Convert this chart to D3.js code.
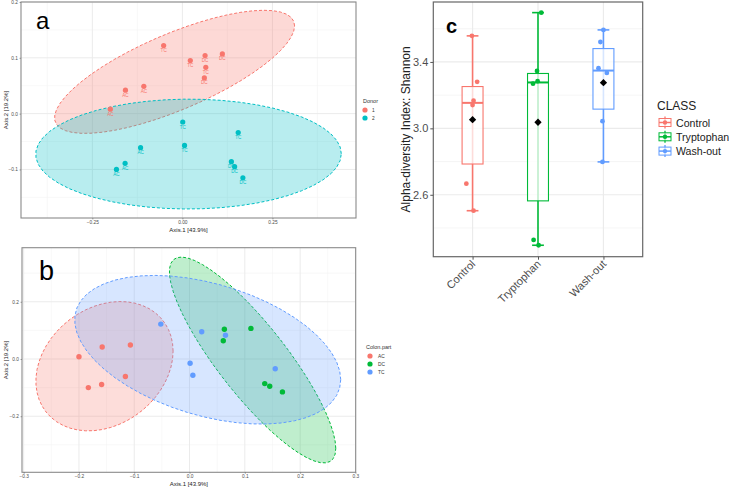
<!DOCTYPE html>
<html><head><meta charset="utf-8">
<script src="https://cdn.jsdelivr.net/npm/d3@7"></script>
<style>body{margin:0;background:#fff}svg{display:block;font-family:"Liberation Sans",Arial,sans-serif}</style>
</head><body><svg id="c" width="729" height="488"></svg>
<script>
// ---- PCoA samples (shared by panels a and b) ----
const pcoaX = [-0.052, 0.022, 0.065, 0.063, 0.111, 0.061, -0.158, -0.107, -0.200, 0.001, 0.006, 0.155, 0.136, 0.145, 0.168, -0.116, -0.159, -0.183];
const pcoaY = [0.122, 0.095, 0.083, 0.104, 0.107, 0.064, 0.042, 0.049, 0.008, -0.015, -0.057, -0.034, -0.086, -0.095, -0.115, -0.061, -0.089, -0.100];
const donor = ["1","1","1","1","1","1","1","1","1","2","2","2","2","2","2","2","2","2"];
const colonPart = ["TC","TC","TC","DC","DC","DC","AC","AC","AC","TC","TC","TC","DC","DC","DC","AC","AC","AC"];
const donorLevels = ["1","2"];
const partLevels = ["AC","DC","TC"];
const axisTitleX = "Axis.1  [43.9%]";
const axisTitleY = "Axis.2  [19.2%]";
const ticksAx = [-0.25, 0, 0.25], ticksAy = [-0.1, 0, 0.1, 0.2];
const ticksBx = [-0.3, -0.2, -0.1, 0, 0.1, 0.2, 0.3], ticksBy = [-0.2, 0, 0.2];
// ---- Shannon alpha diversity (panel c) ----
const classes = ["Control", "Tryptophan", "Wash-out"];
const shannonControl = [3.557, 3.280, 3.167, 3.140, 2.667, 2.504];
const shannonTryptophan = [3.697, 3.346, 3.284, 3.269, 2.328, 2.296];
const shannonWashout = [3.593, 3.520, 3.362, 3.334, 3.043, 2.798];
const jitterControl = [-0.01, 0.07, 0.015, 0, -0.095, 0.015];
const jitterTryptophan = [0.05, -0.015, -0.006, -0.076, -0.067, 0.009];
const jitterWashout = [0, -0.046, -0.076, 0.052, -0.015, -0.015];
const ticksCy = [2.6, 3.0, 3.4];

const svg = d3.select("#c");
svg.append("rect").attr("width",729).attr("height",488).attr("fill","#fff");
const GRID="#EBEBEB", BORDER="#8a8a8a", TXT="#4D4D4D";

const samples = pcoaX.map((x,i)=>({x, y:pcoaY[i], donor:donor[i], part:colonPart[i]}));

// ggplot2::stat_ellipse: type "t" (MASS::cov.trob) or "norm" (cov.wt)
function covTrob(pts){
  const nu=5,p=2,n=pts.length,tol=0.01;
  let loc=[d3.mean(pts,d=>d[0]),d3.mean(pts,d=>d[1])];
  let w=pts.map(()=>1), X;
  for(let it=0;it<25;it++){
    const w0=w.slice();
    X=pts.map(d=>[d[0]-loc[0],d[1]-loc[1]]);
    const sw=d3.sum(w); let a=0,b=0,c=0;
    X.forEach((v,i)=>{a+=w[i]*v[0]*v[0];b+=w[i]*v[0]*v[1];c+=w[i]*v[1]*v[1];});
    a/=sw;b/=sw;c/=sw; const det=a*c-b*b;
    const Q=X.map(v=>(c*v[0]*v[0]-2*b*v[0]*v[1]+a*v[1]*v[1])/det);
    w=Q.map(q=>(nu+p)/(nu+q));
    const s=d3.sum(w);
    loc=[d3.sum(pts,(d,i)=>w[i]*d[0])/s, d3.sum(pts,(d,i)=>w[i]*d[1])/s];
    if(w.every((v,i)=>Math.abs(v-w0[i])<tol)) break;
  }
  let a=0,b=0,c=0;
  X.forEach((v,i)=>{a+=w[i]*v[0]*v[0];b+=w[i]*v[0]*v[1];c+=w[i]*v[1]*v[1];});
  return {center:loc, cov:[a/n,b/n,c/n]};
}
function covWt(pts){
  const n=pts.length, m=[d3.mean(pts,d=>d[0]),d3.mean(pts,d=>d[1])];
  let a=0,b=0,c=0;
  pts.forEach(d=>{const u=d[0]-m[0],v=d[1]-m[1];a+=u*u;b+=u*v;c+=v*v;});
  return {center:m, cov:[a/(n-1),b/(n-1),c/(n-1)]};
}
function ellipsePts(pts,type){
  const n=pts.length, dfd=n-1;
  const q=(dfd/2)*(Math.pow(0.05,-2/dfd)-1);
  const r=Math.sqrt(2*q);
  const {center,cov}=type==="norm"?covWt(pts):covTrob(pts);
  const R11=Math.sqrt(cov[0]), R12=cov[1]/R11, R22=Math.sqrt(cov[2]-R12*R12);
  return d3.range(0,52).map(k=>{const t=k*2*Math.PI/51;
    return [center[0]+r*Math.cos(t)*R11, center[1]+r*(Math.cos(t)*R12+Math.sin(t)*R22)];});
}

function panelFrame(g,x,y,xt,yt,xMinor,yMinor){
  const [x0,x1]=x.range(), [y1,y0]=y.range();
  g.append("rect").attr("x",x0).attr("y",y0).attr("width",x1-x0).attr("height",y1-y0).attr("fill","#fff");
  xMinor.forEach(v=>g.append("line").attr("x1",x(v)).attr("x2",x(v)).attr("y1",y0).attr("y2",y1).attr("stroke","#F3F3F3").attr("stroke-width",0.6));
  yMinor.forEach(v=>g.append("line").attr("y1",y(v)).attr("y2",y(v)).attr("x1",x0).attr("x2",x1).attr("stroke","#F3F3F3").attr("stroke-width",0.6));
  xt.forEach(v=>g.append("line").attr("x1",x(v)).attr("x2",x(v)).attr("y1",y0).attr("y2",y1).attr("stroke",GRID).attr("stroke-width",1));
  yt.forEach(v=>g.append("line").attr("y1",y(v)).attr("y2",y(v)).attr("x1",x0).attr("x2",x1).attr("stroke",GRID).attr("stroke-width",1));
}
function panelBorder(g,x,y){
  const [x0,x1]=x.range(), [y1,y0]=y.range();
  g.append("rect").attr("x",x0).attr("y",y0).attr("width",x1-x0).attr("height",y1-y0).attr("fill","none").attr("stroke",BORDER).attr("stroke-width",1.1);
}
function smallAxes(g,x,y,xt,yt,fx,fy,titleDy){
  const [x0,x1]=x.range(), [y1,y0]=y.range();
  const ax=g.append("g").attr("transform",`translate(0,${y1})`).call(d3.axisBottom(x).tickValues(xt).tickFormat(fx).tickSize(1.5).tickPadding(1));
  const ay=g.append("g").attr("transform",`translate(${x0},0)`).call(d3.axisLeft(y).tickValues(yt).tickFormat(fy).tickSize(1.5).tickPadding(1.5));
  [ax,ay].forEach(a=>{a.select(".domain").remove();a.selectAll("line").attr("stroke","#555").attr("stroke-width",0.5);
    a.selectAll("text").attr("font-size",4.8).attr("fill",TXT).attr("font-family","Liberation Sans, Arial, sans-serif");});
  g.append("text").attr("x",(x0+x1)/2).attr("y",y1+titleDy).attr("text-anchor","middle").attr("font-size",6).attr("fill","#222").text(axisTitleX);
  g.append("text").attr("transform",`translate(8,${(y0+y1)/2}) rotate(-90)`).attr("text-anchor","middle").attr("font-size",6).attr("fill","#222").text(axisTitleY);
}

// ================= Panel a =================
{
  const g=svg.append("g");
  const x=d3.scaleLinear().domain([-0.448,0.482]).range([21,356]);
  const y=d3.scaleLinear().domain([-0.187,0.2]).range([218,2]);
  const col=d3.scaleOrdinal().domain(donorLevels).range(["#F8766D","#00BFC4"]);
  panelFrame(g,x,y,ticksAx,ticksAy,[-0.375,-0.125,0.125,0.375],[-0.15,-0.05,0.05,0.15]);
  const line=d3.line().x(d=>x(d[0])).y(d=>y(d[1]));
  donorLevels.forEach(lv=>{
    const pts=samples.filter(s=>s.donor===lv).map(s=>[s.x,s.y]);
    g.append("path").attr("d",line(ellipsePts(pts,"norm"))).attr("fill",col(lv)).attr("fill-opacity",0.28)
      .attr("stroke",col(lv)).attr("stroke-width",1).attr("stroke-dasharray","3,2");
  });
  samples.forEach(s=>{
    g.append("circle").attr("cx",x(s.x)).attr("cy",y(s.y)).attr("r",2.6).attr("fill",col(s.donor));
    g.append("text").attr("x",x(s.x)).attr("y",y(s.y)+6.5).attr("text-anchor","middle").attr("font-size",4.6).attr("fill",col(s.donor)).text(s.part);
  });
  panelBorder(g,x,y);
  smallAxes(g,x,y,ticksAx,ticksAy,d3.format(".2f"),d3.format(".1f"),14);
  g.append("text").attr("x",363).attr("y",103).attr("font-size",5.5).attr("fill","#333").text("Donor");
  donorLevels.forEach((lv,i)=>{
    g.append("circle").attr("cx",365).attr("cy",110+i*8).attr("r",2.6).attr("fill",col(lv));
    g.append("text").attr("x",372).attr("y",112+i*8).attr("font-size",4.8).attr("fill","#333").text(lv);
  });
  g.append("text").attr("x",36).attr("y",29).attr("font-size",24).attr("fill","#000").text("a");
}

// ================= Panel b =================
{
  const g=svg.append("g");
  const x=d3.scaleLinear().domain([-0.303,0.3005]).range([22,355.7]);
  const y=d3.scaleLinear().domain([-0.396,0.389]).range([472.3,247.7]);
  const col=d3.scaleOrdinal().domain(partLevels).range(["#F8766D","#00BA38","#619CFF"]);
  panelFrame(g,x,y,ticksBx,ticksBy,[-0.25,-0.15,-0.05,0.05,0.15,0.25],[-0.3,-0.1,0.1,0.3]);
  const line=d3.line().x(d=>x(d[0])).y(d=>y(d[1]));
  partLevels.forEach(lv=>{
    const pts=samples.filter(s=>s.part===lv).map(s=>[s.x,s.y]);
    g.append("path").attr("d",line(ellipsePts(pts,"norm"))).attr("fill",col(lv)).attr("fill-opacity",0.25)
      .attr("stroke",col(lv)).attr("stroke-width",1).attr("stroke-dasharray","3,2");
  });
  samples.forEach(s=>{
    g.append("circle").attr("cx",x(s.x)).attr("cy",y(s.y)).attr("r",2.7).attr("fill",col(s.part));
  });
  panelBorder(g,x,y);
  smallAxes(g,x,y,ticksBx,ticksBy,d3.format(".1f"),d3.format(".1f"),13.5);
  g.append("text").attr("x",366).attr("y",349).attr("font-size",5.5).attr("fill","#333").text("Colon.part");
  partLevels.forEach((lv,i)=>{
    g.append("circle").attr("cx",370).attr("cy",356+i*8).attr("r",2.6).attr("fill",col(lv));
    g.append("text").attr("x",378).attr("y",358+i*8).attr("font-size",4.8).attr("fill","#333").text(lv);
  });
  g.append("text").attr("x",39).attr("y",280).attr("font-size",27).attr("fill","#000").text("b");
}

// ================= Panel c =================
{
  const g=svg.append("g");
  const x=d3.scalePoint().domain(classes).range([433.3,642.7]).padding(0.6);
  const y=d3.scaleLinear().domain([2.227,3.761]).range([256.7,2]);
  const step=x.step();
  const col=d3.scaleOrdinal().domain(classes).range(["#F8766D","#00BA38","#619CFF"]);
  const values={"Control":shannonControl,"Tryptophan":shannonTryptophan,"Wash-out":shannonWashout};
  const jit={"Control":jitterControl,"Tryptophan":jitterTryptophan,"Wash-out":jitterWashout};
  const [x0,x1]=x.range(), [y1,y0]=y.range();
  g.append("rect").attr("x",x0).attr("y",y0).attr("width",x1-x0).attr("height",y1-y0).attr("fill","#fff");
  [2.4,2.8,3.2,3.6].forEach(v=>g.append("line").attr("y1",y(v)).attr("y2",y(v)).attr("x1",x0).attr("x2",x1).attr("stroke","#F3F3F3").attr("stroke-width",0.8));
  ticksCy.forEach(v=>g.append("line").attr("y1",y(v)).attr("y2",y(v)).attr("x1",x0).attr("x2",x1).attr("stroke",GRID).attr("stroke-width",1.2));
  classes.forEach(c=>g.append("line").attr("x1",x(c)).attr("x2",x(c)).attr("y1",y0).attr("y2",y1).attr("stroke",GRID).attr("stroke-width",1.2));
  classes.forEach(c=>{
    const v=values[c].slice().sort(d3.ascending);
    const q1=d3.quantile(v,0.25), med=d3.quantile(v,0.5), q3=d3.quantile(v,0.75), iqr=q3-q1;
    const lo=d3.min(v.filter(d=>d>=q1-1.5*iqr)), hi=d3.max(v.filter(d=>d<=q3+1.5*iqr));
    const cx=x(c), bw=step*0.32, cw=step*0.18;
    g.append("line").attr("x1",cx).attr("x2",cx).attr("y1",y(lo)).attr("y2",y(hi)).attr("stroke",col(c)).attr("stroke-width",1.6);
    [lo,hi].forEach(e=>g.append("line").attr("x1",cx-cw/2).attr("x2",cx+cw/2).attr("y1",y(e)).attr("y2",y(e)).attr("stroke",col(c)).attr("stroke-width",1.6));
    g.append("rect").attr("x",cx-bw/2).attr("y",y(q3)).attr("width",bw).attr("height",y(q1)-y(q3))
      .attr("fill","#fff").attr("fill-opacity",0.75).attr("stroke",col(c)).attr("stroke-width",1.1);
    g.append("line").attr("x1",cx-bw/2).attr("x2",cx+bw/2).attr("y1",y(med)).attr("y2",y(med)).attr("stroke",col(c)).attr("stroke-width",2);
    values[c].forEach((d,i)=>g.append("circle").attr("cx",cx+jit[c][i]*step).attr("cy",y(d)).attr("r",2.4).attr("fill",col(c)));
    const m=d3.mean(values[c]);
    g.append("path").attr("d",d3.symbol(d3.symbolDiamond2,34)()).attr("transform",`translate(${cx},${y(m)})`).attr("fill","#000");
  });
  g.append("rect").attr("x",x0).attr("y",y0).attr("width",x1-x0).attr("height",y1-y0).attr("fill","none").attr("stroke","#666").attr("stroke-width",1.2);
  const ay=g.append("g").attr("transform",`translate(${x0},0)`).call(d3.axisLeft(y).tickValues(ticksCy).tickFormat(d3.format(".1f")).tickSize(3).tickPadding(2));
  const ax=g.append("g").attr("transform",`translate(0,${y1})`).call(d3.axisBottom(x).tickSize(3).tickPadding(2));
  [ax,ay].forEach(a=>{a.select(".domain").remove();a.selectAll("line").attr("stroke","#555");
    a.selectAll("text").attr("font-size",11).attr("fill",TXT).attr("font-family","Liberation Sans, Arial, sans-serif");});
  ax.selectAll("text").attr("text-anchor","end").attr("dy",null).attr("y",0)
    .attr("transform","translate(3,8) rotate(-45)");
  g.append("text").attr("transform",`translate(410,${(y0+y1)/2}) rotate(-90)`).attr("text-anchor","middle").attr("font-size",12).attr("fill","#222").text("Alpha-diversity Index: Shannon");
  g.append("text").attr("x",657).attr("y",110).attr("font-size",12).attr("fill","#222").text("CLASS");
  classes.forEach((c,i)=>{
    const cy=122.5+i*14.3, kx=665;
    g.append("line").attr("x1",kx).attr("x2",kx).attr("y1",cy-6).attr("y2",cy+6).attr("stroke",col(c)).attr("stroke-width",1.3);
    g.append("rect").attr("x",kx-6).attr("y",cy-4).attr("width",12).attr("height",8).attr("fill","#fff").attr("fill-opacity",0.6).attr("stroke",col(c)).attr("stroke-width",1);
    g.append("line").attr("x1",kx-6).attr("x2",kx+6).attr("y1",cy).attr("y2",cy).attr("stroke",col(c)).attr("stroke-width",1.5);
    g.append("circle").attr("cx",kx).attr("cy",cy).attr("r",2.2).attr("fill",col(c));
    g.append("text").attr("x",676).attr("y",cy+4).attr("font-size",10.6).attr("fill","#222").text(c);
  });
  g.append("text").attr("x",446).attr("y",33).attr("font-size",20).attr("font-weight","bold").attr("fill","#000").text("c");
}
</script></body></html>
